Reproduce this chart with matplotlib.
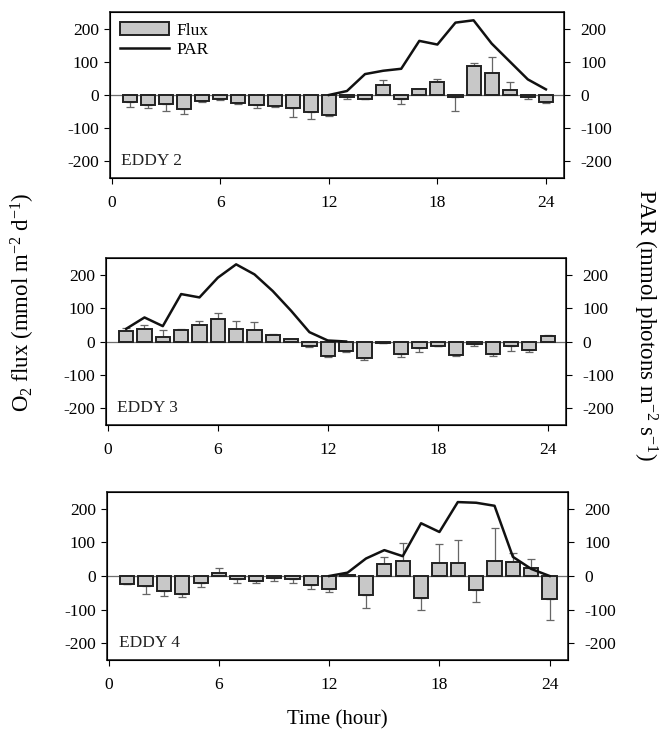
import matplotlib
matplotlib.use("Agg")
import matplotlib.pyplot as plt
import numpy as np
from matplotlib.patches import Rectangle
from matplotlib.legend_handler import HandlerPatch

plt.rcParams['font.family'] = ['Liberation Serif', 'DejaVu Serif']
plt.rcParams['mathtext.fontset'] = 'custom'
plt.rcParams['mathtext.rm'] = 'Liberation Serif'
plt.rcParams['mathtext.default'] = 'rm'

hours = np.arange(1, 25)

panel_names = ["EDDY 2", "EDDY 3", "EDDY 4"]

flux_eddy2 = [-20, -30, -28, -43, -18, -11, -23, -30, -33, -40, -52, -60,
              -6, -11, 29, -11, 17, 40, -5, 86, 66, 14, -5, -20]
err_eddy2 = [15, 8, 20, 13, 4, 3, 3, 8, 2, 26, 21, 2,
             6, 2, 16, 17, 0, 8, 43, 10, 47, 25, 8, 4]
par_hours_eddy2 = [12, 13, 14, 15, 16, 17, 18, 19, 20, 21, 22, 23, 24]
par_eddy2 = [0, 12, 63, 73, 79, 163, 152, 218, 225, 155, 101, 47, 17]

flux_eddy3 = [31, 36, 13, 35, 48, 67, 38, 33, 20, 8, -12, -42,
              -27, -50, -4, -37, -19, -12, -39, -7, -37, -14, -24, 16]
err_eddy3 = [9, 14, 20, 3, 12, 17, 24, 24, 2, 0, 5, 3,
             3, 6, 0, 10, 13, 0, 4, 5, 5, 13, 8, 2]
par_hours_eddy3 = [1, 2, 3, 4, 5, 6, 7, 8, 9, 10, 11, 12, 13]
par_eddy3 = [38, 72, 46, 142, 132, 191, 231, 201, 151, 92, 28, 3, 0]

flux_eddy4 = [-24, -29, -44, -53, -20, 8, -10, -14, -5, -8, -27, -39,
              3, -57, 37, 45, -66, 39, 39, -41, 45, 41, 25, -68]
err_eddy4 = [0, 25, 17, 10, 14, 15, 12, 6, 9, 12, 11, 10,
             0, 39, 20, 52, 34, 55, 67, 37, 98, 26, 27, 64]
par_hours_eddy4 = [12, 13, 14, 15, 16, 17, 18, 19, 20, 21, 22, 23, 24]
par_eddy4 = [0, 10, 52, 77, 59, 157, 131, 220, 218, 209, 57, 21, 0]

fluxes = [flux_eddy2, flux_eddy3, flux_eddy4]
errs = [err_eddy2, err_eddy3, err_eddy4]
par_hours = [par_hours_eddy2, par_hours_eddy3, par_hours_eddy4]
pars = [par_eddy2, par_eddy3, par_eddy4]

W, H = 659, 730
fig = plt.figure(figsize=(W / 100, H / 100), dpi=100)

# pixel boxes (left, top, right, bottom)
boxes = [(110, 12, 564, 178), (106, 258, 566, 425), (107, 492, 568, 660)]

yt = [-200, -100, 0, 100, 200]
fs = 12.5

for i, (l, t, r, b) in enumerate(boxes):
    ax = fig.add_axes([l / W, 1 - b / H, (r - l) / W, (b - t) / H])
    f = np.array(fluxes[i], dtype=float)
    e = np.array(errs[i], dtype=float)
    lower = np.where(f < 0, e, 0)
    upper = np.where(f >= 0, e, 0)
    ax.axhline(0, color='#6e6e6e', lw=0.9, zorder=1)
    ax.bar(hours, f, width=0.78, color='#c8c8c8', edgecolor='#222222',
           linewidth=1.4, zorder=3, label='Flux')
    ax.errorbar(hours, f, yerr=[lower, upper], fmt='none', ecolor='#666666',
                elinewidth=0.9, capsize=3, capthick=0.9, zorder=2)
    ax.plot(par_hours[i], pars[i], color='#111111', lw=1.8, zorder=4, label='PAR')
    ax.set_xlim(-0.1, 25)
    ax.set_ylim(-250, 250)
    ax.set_xticks([0, 6, 12, 18, 24])
    ax.set_yticks(yt)
    ax.set_yticklabels([str(v) for v in yt])
    ax.tick_params(direction='out', length=4, width=0.8, labelsize=fs, pad=4)
    ax.tick_params(axis='x', pad=8)
    for s in ax.spines.values():
        s.set_linewidth(1.2)
        s.set_color('#222222')
    ax.text(0.025, 0.1, panel_names[i], transform=ax.transAxes, fontsize=fs,
            ha='left', va='center', color='#222222')
    ax2 = ax.twinx()
    ax2.set_ylim(-250, 250)
    ax2.set_yticks(yt)
    ax2.set_yticklabels([str(v) for v in yt])
    ax2.tick_params(direction='out', length=4, width=0.8, labelsize=fs, pad=8)
    if i == 0:
        def make_rect(legend, orig_handle, xdescent, ydescent, width, height, fontsize):
            return Rectangle((-xdescent, -ydescent + height * 0.25), width, height * 0.5)
        hb, lb = ax.get_legend_handles_labels()
        leg = ax.legend(hb[::-1], lb[::-1], loc='upper left', frameon=False,
                        fontsize=fs, handlelength=2.8, handletextpad=0.4,
                        labelspacing=0.2, borderaxespad=0.2,
                        handler_map={Rectangle: HandlerPatch(patch_func=make_rect)})

fig.text(23 / W, 1 - 302 / H, 'O$_2$ flux (mmol m$^{-2}$ d$^{-1}$)', rotation=90,
         ha='center', va='center', fontsize=16.5)
fig.text(645 / W, 1 - 325 / H, 'PAR (mmol photons m$^{-2}$ s$^{-1}$)', rotation=270,
         ha='center', va='center', fontsize=16.5)
fig.text(337 / W, 1 - 720 / H, 'Time (hour)', ha='center', va='center', fontsize=15)

fig.savefig('out.png', dpi=100)
